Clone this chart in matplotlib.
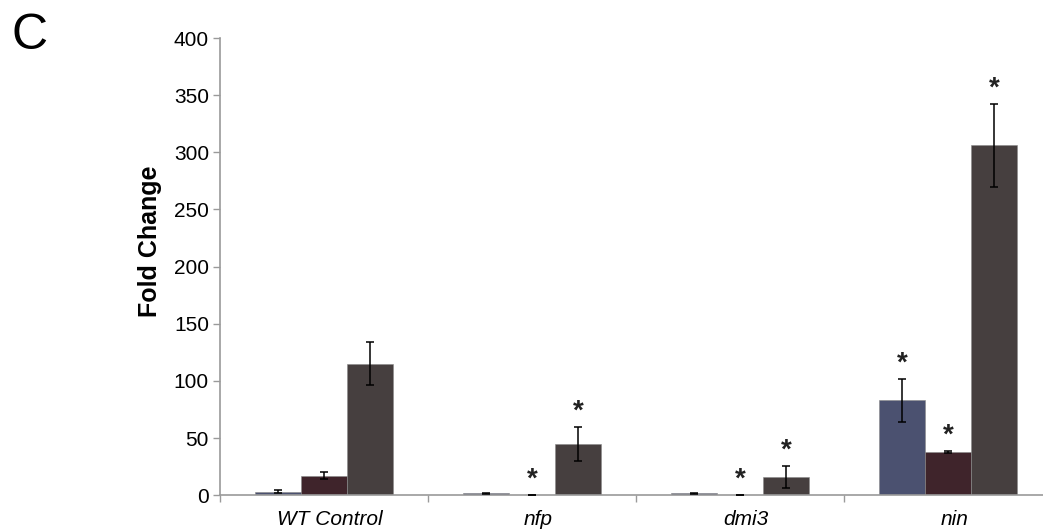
import matplotlib
matplotlib.use("Agg")
import matplotlib.pyplot as plt
import numpy as np

plt.rcParams['font.family'] = ['Liberation Sans', 'DejaVu Sans']

# fold change per genotype, three series per group
groups = ['WT Control', 'nfp', 'dmi3', 'nin']
series_a = [3, 1.5, 1.5, 83]
series_b = [17, 0.3, 0.3, 38]
series_c = [115, 45, 16, 306]
err_a = [1.5, 0.5, 0.5, 19]
err_b = [3, 0, 0, 1]
err_c = [19, 15, 9.5, 36]
# significance marks
sig_a = [False, False, False, True]
sig_b = [False, True, True, True]
sig_c = [False, True, True, True]

colors = ['#4b5170', '#3f242b', '#463f3f']

fig = plt.figure(figsize=(10.43, 5.29), dpi=100)
ax = fig.add_axes([0.211, 0.064, 0.789, 0.864])

x = np.arange(len(groups)) + 0.5
w = 0.222
for k, (vals, errs, sig) in enumerate([(series_a, err_a, sig_a),
                                        (series_b, err_b, sig_b),
                                        (series_c, err_c, sig_c)]):
    pos = x + (k - 1) * w
    ax.bar(pos, vals, width=w, color=colors[k], edgecolor='#8a8a8a',
           linewidth=0.4, zorder=2)
    ax.errorbar(pos, vals, yerr=errs, fmt='none', ecolor='black',
                elinewidth=1.1, capsize=3, capthick=1.1, zorder=3)
    for p, v, e, s in zip(pos, vals, errs, sig):
        if s:
            ax.text(p, v + e + 2, '*', ha='center', va='bottom',
                    fontsize=20, fontweight='bold', color='#222222')

ax.set_xlim(0, (1043 - 220) / 208)
ax.set_ylim(0, 400)
ax.set_yticks(np.arange(0, 401, 50))
ax.set_xticks(np.arange(0, 4))
ax.set_xticklabels([])
for xc, g in zip(x, groups):
    ax.text(xc + 0.03, -13, g, ha='center', va='top', fontsize=15,
            fontstyle='italic', clip_on=False)

for side in ['top', 'right']:
    ax.spines[side].set_visible(False)
for side in ['left', 'bottom']:
    ax.spines[side].set_color('#9a9a9a')
    ax.spines[side].set_linewidth(1.2)
ax.tick_params(axis='y', colors='#9a9a9a', labelcolor='black',
               labelsize=15, length=5, width=1, pad=3)
ax.tick_params(axis='x', colors='#9a9a9a', length=5, width=1)

ax.set_ylabel('Fold Change', fontsize=18, fontweight='bold')
ax.yaxis.set_label_coords(-0.070, 0.556)
fig.text(0.011, 0.932, 'C', fontsize=36, ha='left', va='center',
         family=['Liberation Sans Narrow', 'Liberation Sans'])

fig.savefig('out.png', dpi=100)
